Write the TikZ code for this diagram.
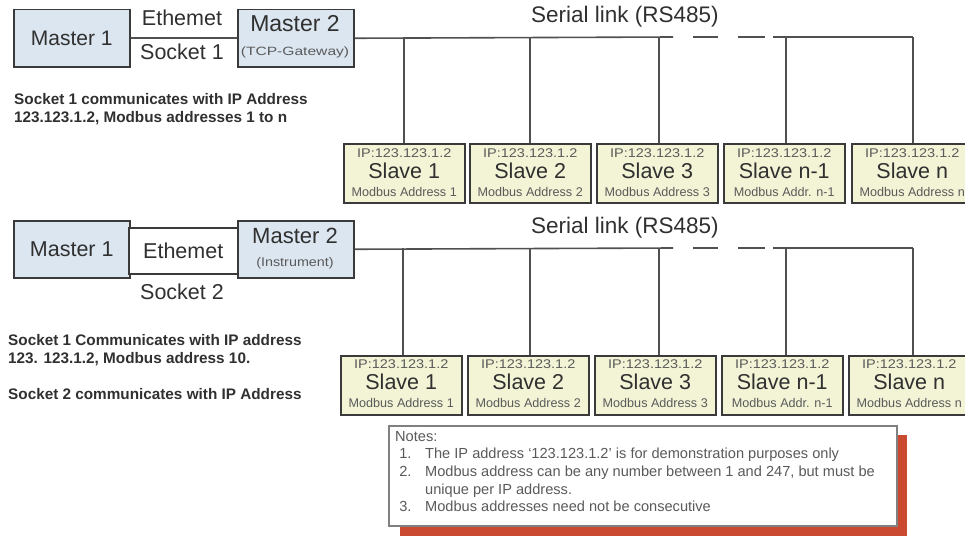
\documentclass[tikz,border=0pt]{standalone}
\usepackage{fontspec}
\setmainfont{Liberation Sans}
\definecolor{masterfill}{HTML}{DCE6F0}
\definecolor{boxline}{HTML}{3A3A3A}
\definecolor{slavefill}{HTML}{F3F3D6}
\definecolor{txt}{HTML}{303030}
\definecolor{lighttxt}{HTML}{5A5A5A}
\definecolor{wire}{HTML}{505050}
\definecolor{shadowred}{HTML}{C94A30}
\newcommand{\fs}[1]{\fontsize{#1}{#1}\selectfont}
\begin{document}
\begin{tikzpicture}[x=1pt,y=-1pt,
  box/.style={draw=boxline, line width=1.5pt, inner sep=0pt, anchor=north west},
  masterbox/.style={box, fill=masterfill, minimum width=116pt, minimum height=57pt},
  ethbox/.style={box, fill=white, minimum width=109pt, minimum height=46pt},
  slavebox/.style={box, fill=slavefill, minimum width=121pt, minimum height=59pt},
  lbl/.style={text=txt, inner sep=0pt},
  small/.style={lbl, text=lighttxt, font=\fs{12.6}},
  wireline/.style={draw=wire, line width=1.6pt},
  note/.style={text=txt, inner sep=0pt, font=\fontsize{15.3}{18}\selectfont\bfseries, align=left, anchor=west}]
\useasboundingbox (0,0) rectangle (965,535);
\clip (0,0) rectangle (965,535);

% ---------------- top section ----------------
\node[masterbox] (m1a) at (13,9) {};
\node[lbl, font=\fs{21}] (m1at) at (m1a.center) {Master 1};
\node[masterbox] (m2a) at (237,9) {};
\node[lbl, font=\fs{23}] (m2at) at (295,24) {Master 2};
\node[lbl, font=\fs{12}, text=lighttxt] (m2as) at (295,52) {\scalebox{1.3}[1]{(TCP-Gateway)}};
\draw[wireline] (m1a.east) -- (m2a.west);
\node[lbl, font=\fs{21.5}] (etha) at (182,18) {Ethemet};
\node[lbl, font=\fs{21.5}] (socka) at (182,52) {Socket 1};
\node[lbl, font=\fs{22.5}] (sera) at (625,17) {Serial link (RS485)};

\node[note] (infoa) at (14,109) {Socket 1 communicates with IP Address\\123.123.1.2, Modbus addresses 1 to n};

\foreach \x/\nm/\ad [count=\i] in {343/Slave 1/Modbus Address 1, 469/Slave 2/Modbus Address 2, 596/Slave 3/Modbus Address 3, 723/Slave n-1/Modbus Addr. n-1, 851/Slave n/Modbus Address n}{
  \node[slavebox] (sa\i) at (\x,143) {};
  \node[small] (sa\i ip) at ([yshift=-10pt]sa\i.north) {\scalebox{1.15}[1]{IP:123.123.1.2}};
  \node[lbl, font=\fs{21.5}] (sa\i n) at ([yshift=-28pt]sa\i.north) {\nm};
  \node[small] (sa\i m) at ([yshift=-49pt]sa\i.north) {\ad};
}
\coordinate (ba1) at (404,37);
\coordinate (ba2) at (530,37);
\coordinate (ba3) at (659,37);
\coordinate (ba4) at (786,37);
\coordinate (ba5) at (913,37);
\coordinate (gapa1) at (673,37);
\coordinate (gapa2) at (693,37);
\coordinate (gapa3) at (718,37);
\coordinate (gapa4) at (738,37);
\coordinate (gapa5) at (765,37);
\coordinate (gapa6) at (773,37);
\draw[wireline] (m2a.east) -- (gapa1);
\draw[wireline] (gapa2) -- (gapa3);
\draw[wireline] (gapa4) -- (gapa5);
\draw[wireline] (gapa6) -- (ba5);
\foreach \i in {1,...,5}{
  \draw[wireline] (ba\i) -- (ba\i |- sa\i.north);
}

% ---------------- bottom section ----------------
\node[masterbox] (m1b) at (13,220) {};
\node[lbl, font=\fs{21.5}] (m1bt) at (m1b.center) {Master 1};
\node[ethbox] (ethb) at (128,227) {};
\node[lbl, font=\fs{21.5}] (ethbt) at (ethb.center) {Ethemet};
\node[masterbox] (m2b) at (237,220) {};
\node[lbl, font=\fs{22}] (m2bt) at (295,236) {Master 2};
\node[lbl, font=\fs{12.5}, text=lighttxt] (m2bs) at (295,263) {\scalebox{1.15}[1]{(Instrument)}};
\node[lbl, font=\fs{21.5}] (sockb) at (182,292) {Socket 2};
\node[lbl, font=\fs{22.5}] (serb) at (625,228) {Serial link (RS485)};

\node[note] (infob1) at (8,350) {Socket 1 Communicates with IP address\\123. 123.1.2, Modbus address 10.};
\node[note] (infob2) at (8,394) {Socket 2 communicates with IP Address};

\foreach \x/\nm/\ad [count=\i] in {340/Slave 1/Modbus Address 1, 467/Slave 2/Modbus Address 2, 594/Slave 3/Modbus Address 3, 721/Slave n-1/Modbus Addr. n-1, 848/Slave n/Modbus Address n}{
  \node[slavebox] (sb\i) at (\x,355) {};
  \node[small] (sb\i ip) at ([yshift=-9pt]sb\i.north) {\scalebox{1.15}[1]{IP:123.123.1.2}};
  \node[lbl, font=\fs{21.5}] (sb\i n) at ([yshift=-27pt]sb\i.north) {\nm};
  \node[small] (sb\i m) at ([yshift=-48pt]sb\i.north) {\ad};
}
\coordinate (bb1) at (403,248);
\coordinate (bb2) at (530,248);
\coordinate (bb3) at (659,248);
\coordinate (bb4) at (786,248);
\coordinate (bb5) at (913,248);
\coordinate (gapb1) at (673,248);
\coordinate (gapb2) at (693,248);
\coordinate (gapb3) at (718,248);
\coordinate (gapb4) at (738,248);
\coordinate (gapb5) at (765,248);
\coordinate (gapb6) at (773,248);
\draw[wireline] (m2b.east) -- (gapb1);
\draw[wireline] (gapb2) -- (gapb3);
\draw[wireline] (gapb4) -- (gapb5);
\draw[wireline] (gapb6) -- (bb5);
\foreach \i in {1,...,5}{
  \draw[wireline] (bb\i) -- (bb\i |- sb\i.north);
}

% ---------------- notes ----------------
\fill[shadowred] (400,435) rectangle (907,540);
\node[box, draw=gray, line width=1.5pt, fill=white, minimum width=508pt, minimum height=100pt] (notes) at (388,425) {};
\node[inner sep=0pt, anchor=north west, text=lighttxt, font=\fontsize{14.6}{17.6}\selectfont, align=left] (notestext) at (395,431)
{Notes:\\
\makebox[30pt][l]{\ 1.}The IP address `123.123.1.2' is for demonstration purposes only\\
\makebox[30pt][l]{\ 2.}Modbus address can be any number between 1 and 247, but must be\\
\hspace*{30pt}unique per IP address.\\
\makebox[30pt][l]{\ 3.}Modbus addresses need not be consecutive};
\end{tikzpicture}
\end{document}
